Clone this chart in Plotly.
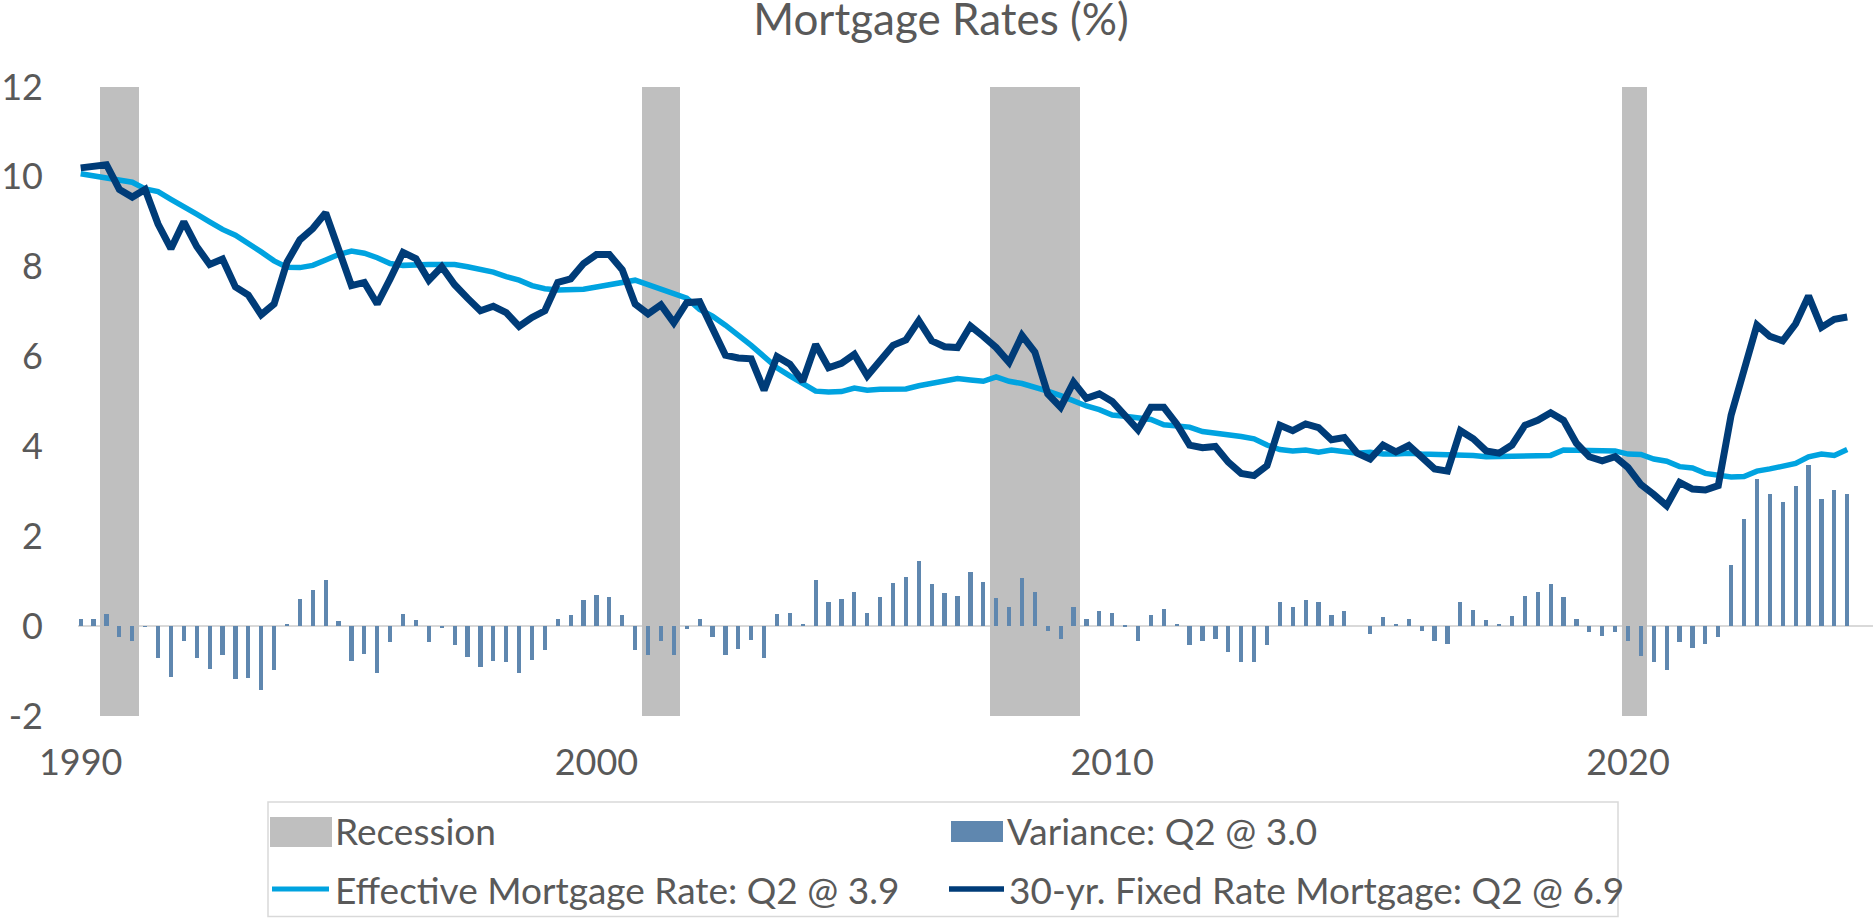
import plotly.graph_objects as go

# ---------------- data ----------------
quarters = [f"{y}Q{q}" for y in range(1990, 2025) for q in range(1, 5)][:138]

fixed_30yr = [
    10.20, 10.22, 10.27, 9.72, 9.55, 9.72, 8.95, 8.40, 9.00, 8.45,
    8.05, 8.17, 7.55, 7.37, 6.93, 7.17, 8.10, 8.60, 8.85, 9.20,
    8.39, 7.58, 7.65, 7.17, 7.73, 8.32, 8.18, 7.70, 8.00, 7.60,
    7.30, 7.02, 7.12, 6.98, 6.67, 6.87, 7.02, 7.65, 7.73, 8.07,
    8.27, 8.27, 7.93, 7.17, 6.95, 7.15, 6.75, 7.20, 7.22, 6.60,
    6.03, 5.97, 5.95, 5.25, 6.00, 5.83, 5.45, 6.27, 5.75, 5.85,
    6.05, 5.57, 5.93, 6.25, 6.37, 6.80, 6.35, 6.22, 6.20, 6.68,
    6.45, 6.20, 5.87, 6.47, 6.10, 5.17, 4.87, 5.43, 5.07, 5.17,
    5.00, 4.70, 4.37, 4.87, 4.87, 4.50, 4.03, 3.97, 4.00, 3.65,
    3.40, 3.35, 3.57, 4.47, 4.35, 4.50, 4.42, 4.15, 4.20, 3.85,
    3.72, 4.03, 3.88, 4.02, 3.75, 3.50, 3.45, 4.35, 4.17, 3.90,
    3.85, 4.03, 4.47, 4.58, 4.75, 4.58, 4.07, 3.77, 3.68, 3.77,
    3.53, 3.15, 2.93, 2.68, 3.20, 3.05, 3.03, 3.13, 4.70, 5.73,
    6.70, 6.45, 6.35, 6.73, 7.35, 6.65, 6.83, 6.88,
]

effective_rate = [
    10.07, 10.02, 9.97, 9.95, 9.88, 9.73, 9.67, 9.50, 9.35, 9.17,
    9.00, 8.83, 8.70, 8.53, 8.33, 8.13, 7.99, 7.98, 8.03, 8.15,
    8.27, 8.35, 8.30, 8.20, 8.07, 8.03, 8.05, 8.05, 8.05, 8.05,
    8.00, 7.95, 7.88, 7.78, 7.70, 7.58, 7.51, 7.48, 7.48, 7.50,
    7.55, 7.60, 7.67, 7.70, 7.60, 7.50, 7.42, 7.30, 7.05, 6.90,
    6.70, 6.48, 6.25, 6.00, 5.75, 5.57, 5.40, 5.23, 5.21, 5.22,
    5.30, 5.25, 5.27, 5.28, 5.28, 5.35, 5.40, 5.47, 5.51, 5.48,
    5.45, 5.55, 5.45, 5.40, 5.33, 5.23, 5.13, 5.00, 4.90, 4.82,
    4.70, 4.67, 4.65, 4.60, 4.48, 4.45, 4.43, 4.33, 4.30, 4.25,
    4.22, 4.17, 4.03, 3.93, 3.90, 3.92, 3.87, 3.92, 3.89, 3.85,
    3.87, 3.83, 3.83, 3.85, 3.83, 3.83, 3.83, 3.83, 3.80, 3.77,
    3.77, 3.77, 3.77, 3.80, 3.80, 3.92, 3.92, 3.90, 3.90, 3.90,
    3.83, 3.82, 3.72, 3.67, 3.55, 3.52, 3.40, 3.37, 3.32, 3.33,
    3.45, 3.50, 3.57, 3.62, 3.77, 3.83, 3.80, 3.93,
]

variance = [
    0.17, 0.17, 0.28, -0.25, -0.33, -0.01, -0.70, -1.13, -0.33, -0.72,
    -0.95, -0.65, -1.17, -1.15, -1.43, -0.98, 0.05, 0.60, 0.80, 1.02,
    0.12, -0.78, -0.63, -1.05, -0.35, 0.28, 0.13, -0.35, -0.03, -0.42,
    -0.68, -0.92, -0.77, -0.80, -1.05, -0.75, -0.52, 0.17, 0.25, 0.58,
    0.70, 0.65, 0.25, -0.52, -0.65, -0.33, -0.65, -0.07, 0.17, -0.25,
    -0.65, -0.50, -0.30, -0.70, 0.28, 0.29, 0.05, 1.03, 0.53, 0.60,
    0.77, 0.30, 0.65, 0.97, 1.10, 1.45, 0.93, 0.73, 0.68, 1.20,
    0.98, 0.63, 0.43, 1.07, 0.75, -0.10, -0.28, 0.42, 0.16, 0.33,
    0.30, 0.03, -0.32, 0.25, 0.39, 0.05, -0.42, -0.33, -0.28, -0.57,
    -0.80, -0.80, -0.43, 0.53, 0.43, 0.58, 0.53, 0.25, 0.33, 0.00,
    -0.17, 0.20, 0.05, 0.17, -0.10, -0.33, -0.40, 0.53, 0.37, 0.13,
    0.05, 0.23, 0.68, 0.75, 0.93, 0.65, 0.15, -0.13, -0.23, -0.13,
    -0.32, -0.67, -0.80, -0.97, -0.35, -0.48, -0.40, -0.25, 1.35, 2.38,
    3.28, 2.95, 2.77, 3.12, 3.58, 2.82, 3.02, 2.95,
]

recession_quarters = [
    "1990Q3", "1990Q4", "1991Q1",
    "2001Q1", "2001Q2", "2001Q3",
    "2007Q4", "2008Q1", "2008Q2", "2008Q3", "2008Q4", "2009Q1", "2009Q2",
    "2020Q1", "2020Q2",
]

x_tick_vals = [1990, 2000, 2010, 2020]
x_tick_text = ["1990", "2000", "2010", "2020"]
y_tick_vals = [-2, 0, 2, 4, 6, 8, 10, 12]
y_tick_text = ["-2", "0", "2", "4", "6", "8", "10", "12"]

legend_labels = [
    "Recession",
    "Variance: Q2 @ 3.0",
    "Effective Mortgage Rate: Q2 @ 3.9",
    "30-yr. Fixed Rate Mortgage: Q2 @ 6.9",
]

# ---------------- style ----------------
FONT = "Lato, 'Open Sans', sans-serif"
TEXT = "#595959"
C_REC = "#BFBFBF"
C_VAR = "#5F87AF"
C_EFF = "#00A3E0"
C_FIX = "#003C78"
Y_MIN, Y_MAX = -2, 12

W, H = 1875, 918
L, R, T, B = 78, 2, 87, 202
PW, PH = W - L - R, H - T - B


def qx(q):
    return int(q[:4]) + (int(q[5]) - 1) / 4


x = [qx(q) for q in quarters]
rec_x = [qx(q) for q in recession_quarters]


def pxx(v):
    """page pixel x -> paper x"""
    return (v - L) / PW


def pxy(v):
    """page pixel y -> paper y"""
    return (H - B - v) / PH


fig = go.Figure()

fig.add_trace(go.Bar(
    x=rec_x, y=[Y_MAX - Y_MIN] * len(rec_x), base=Y_MIN, width=0.25,
    marker=dict(color=C_REC, line=dict(width=0)), name=legend_labels[0],
    showlegend=False, hoverinfo="skip",
))
fig.add_trace(go.Bar(
    x=x, y=variance, width=0.082,
    marker=dict(color=C_VAR, line=dict(width=0)), name=legend_labels[1],
    showlegend=False,
))
fig.add_trace(go.Scatter(
    x=x, y=effective_rate, mode="lines",
    line=dict(color=C_EFF, width=5.5), name=legend_labels[2], showlegend=False,
))
fig.add_trace(go.Scatter(
    x=x, y=fixed_30yr, mode="lines",
    line=dict(color=C_FIX, width=7), name=legend_labels[3], showlegend=False,
))

# ---------------- custom legend ----------------
shapes = [
    dict(type="rect", xref="paper", yref="paper",
         x0=pxx(268), x1=pxx(1618), y0=pxy(916.5), y1=pxy(802),
         line=dict(color="#D9D9D9", width=1.5), fillcolor="white", layer="below"),
    dict(type="rect", xref="paper", yref="paper",
         x0=pxx(270), x1=pxx(332), y0=pxy(847), y1=pxy(817),
         line=dict(width=0), fillcolor=C_REC),
    dict(type="rect", xref="paper", yref="paper",
         x0=pxx(951), x1=pxx(1003), y0=pxy(842), y1=pxy(821),
         line=dict(width=0), fillcolor=C_VAR),
    dict(type="line", xref="paper", yref="paper",
         x0=pxx(272), x1=pxx(329), y0=pxy(889), y1=pxy(889),
         line=dict(color=C_EFF, width=5)),
    dict(type="line", xref="paper", yref="paper",
         x0=pxx(949), x1=pxx(1004), y0=pxy(889), y1=pxy(889),
         line=dict(color=C_FIX, width=5.5)),
]
legend_pos = [(334, 830), (1006, 830), (334, 889), (1008, 889)]
annotations = [
    dict(text=t, xref="paper", yref="paper", x=pxx(lx), y=pxy(ly),
         xanchor="left", yanchor="middle", showarrow=False,
         font=dict(family=FONT, size=37, color=TEXT), borderpad=0)
    for t, (lx, ly) in zip(legend_labels, legend_pos)
]

fig.update_layout(
    width=W, height=H,
    margin=dict(l=L, r=R, t=T, b=B, pad=0),
    paper_bgcolor="white", plot_bgcolor="white",
    barmode="overlay", bargap=0,
    showlegend=False,
    font=dict(family=FONT, size=36, color=TEXT),
    title=dict(text="Mortgage Rates (%)", x=941 / W, xref="container",
               y=1 - 20 / H, yref="container", xanchor="center", yanchor="middle",
               font=dict(family=FONT, size=44, color=TEXT)),
    shapes=shapes,
    annotations=annotations,
)
fig.update_xaxes(
    range=[1989.948, 2024.75], tickvals=x_tick_vals, ticktext=x_tick_text,
    showgrid=False, zeroline=False, showline=False, ticks="",
    ticklabelstandoff=22, tickfont=dict(family=FONT, size=36, color=TEXT),
)
fig.update_yaxes(
    range=[Y_MIN, Y_MAX], tickvals=y_tick_vals, ticktext=y_tick_text,
    showgrid=False, zeroline=True, zerolinecolor="#D9D9D9", zerolinewidth=2,
    showline=False, ticks="", ticklabelstandoff=34,
    tickfont=dict(family=FONT, size=36, color=TEXT),
)

fig.write_html(
    "out.html",
    config={"displayModeBar": False},
    post_script="document.body.style.margin='0';document.body.style.padding='0';",
)
